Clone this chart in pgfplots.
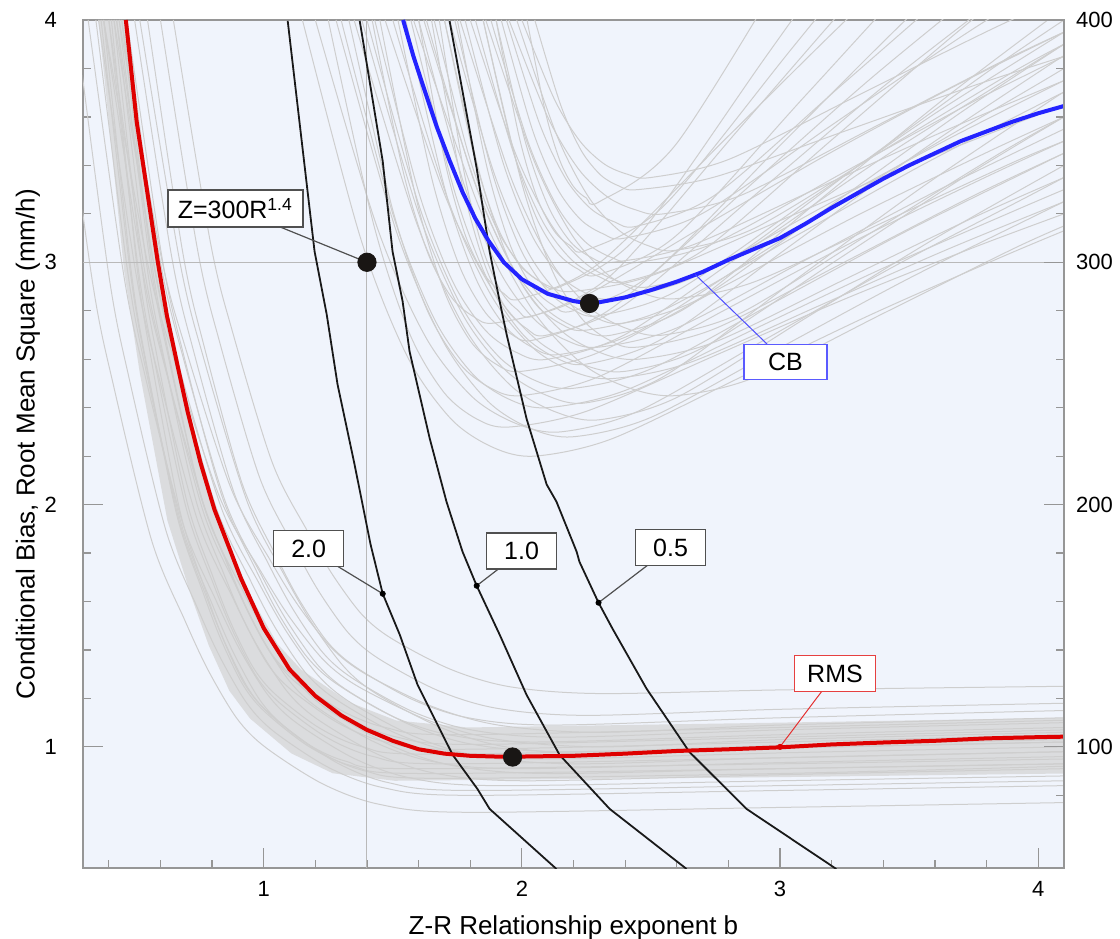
\documentclass[border=0pt]{standalone}
\usepackage{pgfplots}
\pgfplotsset{compat=1.18}
\usepackage{fontspec}
\setmainfont{Liberation Sans}
\definecolor{bgblue}{RGB}{240,244,252}
\definecolor{lgray}{RGB}{206,206,206}
\definecolor{bandgray}{RGB}{212,212,212}
\definecolor{framegray}{RGB}{150,150,150}
\definecolor{gridgray}{RGB}{185,185,185}
\definecolor{rmsred}{RGB}{222,0,0}
\definecolor{cbblue}{RGB}{35,35,255}
\definecolor{boxgray}{RGB}{80,80,80}
\definecolor{dotblack}{RGB}{25,22,20}
\pgfplotsset{
  gr/.style={lgray, line width=0.5pt, smooth, mark=none},
  blk/.style={black!90, line width=0.9pt, mark=none},
}
\tikzset{
  lbl/.style={fill=white, line width=0.75pt, inner sep=0pt, minimum height=18pt, font=\fontsize{12.5}{14}\selectfont},
}
\begin{document}
\begin{tikzpicture}
\begin{axis}[
  scale only axis, width=490.5pt, height=424pt,
  xmin=0.3, xmax=4.1, ymin=0.5, ymax=4,
  axis background/.style={fill=bgblue},
  axis line style={framegray, line width=0.7pt},
  xtick={1,2,3,4}, ytick={1,2,3,4},
  minor xtick={0.4,0.6,0.8,1.2,1.4,1.6,1.8,2.2,2.4,2.6,2.8,3.2,3.4,3.6,3.8},
  minor ytick={1.2,1.4,1.6,1.8,2.2,2.4,2.6,2.8,3.2,3.4,3.6,3.8},
  xtick pos=bottom, ytick pos=left,
  tick align=inside,
  major tick length=10pt, minor tick length=4pt,
  tick style={framegray, line width=0.6pt},
  tick label style={font=\fontsize{11}{13}\selectfont, black},
  xticklabel style={yshift=-3pt},
  yticklabel style={xshift=-9.5pt},
  /pgf/number format/assume math mode=true,
  xlabel={Z-R Relationship exponent b},
  ylabel={Conditional Bias, Root Mean Square (mm/h)},
  label style={font=\fontsize{13}{15}\selectfont},
  xlabel style={at={(axis description cs:0.5,-0.079)}, anchor=base},
  ylabel style={at={(axis description cs:-0.0494,0.5)}, anchor=base},
]
\coordinate (sw) at (rel axis cs:0,0);
\coordinate (ne) at (rel axis cs:1,1);
% dense core of the RMS family
\addplot[fill=bandgray, fill opacity=0.75, draw=none] coordinates {
(.36,4.0)(.459,2.967)(.52,2.543)(.627,1.934)(.72,1.620)(.787,1.419)(.867,1.231)(.947,1.117)(1.107,.973)(1.267,.891)(1.507,.86)(3.0,.875)(4.1,.89)
(4.1,1.12)(3.0,1.10)(1.789,1.08)(1.513,1.109)(1.329,1.185)(1.145,1.319)(1.053,1.425)(.961,1.600)(.884,1.787)(.777,2.079)(.654,2.645)(.584,3.039)(.47,4.0)} -- cycle;
% RMS family
\addplot[gr] coordinates {(.20,4.0)(.336,2.924)(.42,2.483)(.567,1.848)(.695,1.521)(.787,1.312)(.897,1.116)(1.007,.998)(1.227,.848)(1.447,.763)(1.777,.73)(3.0,.75)(4.1,.77)};
\addplot[gr] coordinates {(.27,4.0)(.40,2.947)(.48,2.515)(.621,1.894)(.743,1.574)(.831,1.370)(.936,1.178)(1.041,1.062)(1.251,.915)(1.461,.832)(1.776,.80)(3.0,.82)(4.1,.84)};
\addplot[gr] coordinates {(.32,4.0)(.456,2.960)(.54,2.534)(.687,1.921)(.815,1.605)(.907,1.402)(1.017,1.213)(1.127,1.099)(1.347,.954)(1.567,.872)(1.897,.84)(3.0,.86)(4.1,.88)};
\addplot[gr] coordinates {(.36,4.0)(.503,2.967)(.59,2.543)(.744,1.934)(.878,1.620)(.974,1.419)(1.089,1.231)(1.204,1.117)(1.434,.973)(1.664,.891)(2.009,.86)(3.0,.885)(4.1,.91)};
\addplot[gr] coordinates {(.38,4.0)(.529,2.977)(.62,2.557)(.781,1.954)(.92,1.643)(1.021,1.444)(1.141,1.257)(1.261,1.145)(1.501,1.002)(1.741,.921)(2.101,.89)(3.0,.91)(4.1,.93)};
\addplot[gr] coordinates {(.40,4.0)(.536,2.983)(.62,2.566)(.767,1.967)(.895,1.658)(.987,1.460)(1.097,1.275)(1.207,1.163)(1.427,1.021)(1.647,.941)(1.977,.91)(3.0,.935)(4.1,.96)};
\addplot[gr] coordinates {(.42,4.0)(.575,2.990)(.67,2.576)(.838,1.980)(.983,1.673)(1.088,1.476)(1.213,1.292)(1.338,1.182)(1.588,1.041)(1.838,.961)(2.213,.93)(3.0,.955)(4.1,.98)};
\addplot[gr] coordinates {(.43,4.0)(.573,2.997)(.66,2.585)(.814,1.993)(.948,1.688)(1.044,1.493)(1.159,1.310)(1.274,1.200)(1.504,1.060)(1.734,.981)(2.079,.95)(3.0,.975)(4.1,1.00)};
\addplot[gr] coordinates {(.45,4.0)(.599,3.006)(.69,2.599)(.851,2.013)(.99,1.711)(1.091,1.518)(1.211,1.336)(1.331,1.228)(1.571,1.089)(1.811,1.010)(2.171,.98)(3.0,1.005)(4.1,1.03)};
\addplot[gr] coordinates {(.38,4.0)(.547,3.013)(.65,2.608)(.831,2.026)(.988,1.726)(1.101,1.534)(1.236,1.354)(1.371,1.246)(1.641,1.108)(1.911,1.030)(2.316,1.00)(3.0,1.03)(4.1,1.06)};
\addplot[gr] coordinates {(.47,4.0)(.606,3.020)(.69,2.617)(.837,2.039)(.965,1.741)(1.057,1.550)(1.167,1.372)(1.277,1.264)(1.497,1.127)(1.717,1.050)(2.047,1.02)(3.0,1.05)(4.1,1.08)};
\addplot[gr] coordinates {(.50,4.0)(.643,3.026)(.73,2.627)(.884,2.052)(1.018,1.756)(1.114,1.567)(1.229,1.389)(1.344,1.283)(1.574,1.147)(1.804,1.070)(2.149,1.04)(3.0,1.07)(4.1,1.10)};
\addplot[gr] coordinates {(.44,4.0)(.601,3.033)(.70,2.636)(.874,2.065)(1.025,1.771)(1.134,1.583)(1.264,1.407)(1.394,1.301)(1.654,1.166)(1.914,1.089)(2.304,1.06)(3.0,1.09)(4.1,1.12)};
\addplot[gr] coordinates {(.55,4.0)(.686,3.043)(.77,2.650)(.917,2.085)(1.045,1.794)(1.137,1.608)(1.247,1.433)(1.357,1.329)(1.577,1.195)(1.797,1.119)(2.127,1.09)(3.0,1.12)(4.1,1.15)};
\addplot[gr] coordinates {(.60,4.0)(.743,3.056)(.83,2.668)(.984,2.112)(1.118,1.825)(1.214,1.641)(1.329,1.469)(1.444,1.365)(1.674,1.233)(1.904,1.159)(2.249,1.13)(3.0,1.155)(4.1,1.18)};
\addplot[gr] coordinates {(.65,4.0)(.793,3.085)(.88,2.710)(1.034,2.171)(1.168,1.893)(1.264,1.715)(1.379,1.548)(1.494,1.448)(1.724,1.320)(1.954,1.248)(2.299,1.22)(3.0,1.235)(4.1,1.25)};
\addplot[gr] coordinates {(.35,4.0)(.474,2.954)(.55,2.524)(.684,1.908)(.80,1.590)(.884,1.386)(.984,1.195)(1.084,1.081)(1.284,.934)(1.484,.852)(1.784,.82)(3.0,.84)(4.1,.86)};
\addplot[gr] coordinates {(.52,4.0)(.675,3.003)(.77,2.594)(.938,2.006)(1.083,1.703)(1.188,1.509)(1.313,1.328)(1.438,1.218)(1.688,1.079)(1.938,1.000)(2.313,.97)(3.0,.995)(4.1,1.02)};
\addplot[gr] coordinates {(.38,4.0)(.485,2.977)(.55,2.557)(.664,1.954)(.763,1.643)(.834,1.444)(.919,1.257)(1.004,1.145)(1.174,1.002)(1.344,.921)(1.599,.89)(3.0,.91)(4.1,.93)};
\addplot[gr] coordinates {(.40,4.0)(.512,2.990)(.58,2.576)(.701,1.980)(.805,1.673)(.881,1.476)(.971,1.292)(1.061,1.182)(1.241,1.041)(1.421,.961)(1.691,.93)(3.0,.955)(4.1,.98)};
\addplot[gr] coordinates {(.42,4.0)(.525,3.003)(.59,2.594)(.704,2.006)(.803,1.703)(.874,1.509)(.959,1.328)(1.044,1.218)(1.214,1.079)(1.384,1.00)(1.639,.97)(3.0,.995)(4.1,1.02)};
\addplot[gr] coordinates {(.44,4.0)(.558,3.016)(.63,2.613)(.757,2.033)(.868,1.734)(.947,1.542)(1.042,1.363)(1.137,1.255)(1.327,1.118)(1.517,1.04)(1.802,1.01)(3.0,1.04)(4.1,1.07)};
\addplot[gr] coordinates {(.37,4.0)(.482,2.970)(.55,2.548)(.671,1.940)(.775,1.627)(.851,1.427)(.941,1.239)(1.031,1.127)(1.211,.983)(1.391,.901)(1.661,.87)(3.0,.89)(4.1,.92)};
\addplot[gr] coordinates {(.45,4.0)(.562,3.029)(.63,2.631)(.751,2.059)(.855,1.764)(.931,1.575)(1.021,1.398)(1.111,1.292)(1.291,1.156)(1.471,1.08)(1.741,1.05)(3.0,1.08)(4.1,1.11)};
\addplot[gr] coordinates {(.41,4.0)(.509,2.983)(.57,2.566)(.677,1.967)(.77,1.658)(.837,1.460)(.917,1.275)(.997,1.163)(1.157,1.021)(1.317,.941)(1.557,.91)(3.0,.93)(4.1,.95)};
\addplot[gr] coordinates {(.43,4.0)(.544,3.010)(.614,2.603)(.737,2.019)(.844,1.718)(.921,1.526)(1.013,1.345)(1.105,1.237)(1.289,1.098)(1.473,1.02)(1.749,.99)(3.0,1.02)(4.1,1.05)};
% CB family
\addplot[gr] coordinates {(1.15,4.0)(1.375,3.10)(1.555,2.614)(1.726,2.353)(1.888,2.236)(2.05,2.20)(2.35,2.272)(2.85,2.527)(3.35,2.783)(3.85,3.018)(4.1,3.13)};
\addplot[gr] coordinates {(1.25,4.0)(1.425,3.16)(1.565,2.706)(1.698,2.463)(1.824,2.354)(1.95,2.32)(2.25,2.385)(2.75,2.616)(3.25,2.848)(3.75,3.061)(4.1,3.20)};
\addplot[gr] coordinates {(1.30,4.0)(1.50,3.20)(1.66,2.768)(1.812,2.536)(1.956,2.432)(2.10,2.40)(2.40,2.471)(2.90,2.724)(3.40,2.976)(3.90,3.209)(4.1,3.30)};
\addplot[gr] coordinates {(1.40,4.0)(1.60,3.24)(1.76,2.83)(1.912,2.609)(2.056,2.51)(2.20,2.48)(2.50,2.56)(3.00,2.847)(3.50,3.134)(4.00,3.398)(4.1,3.45)};
\addplot[gr] coordinates {(1.45,4.0)(1.588,3.275)(1.698,2.884)(1.802,2.673)(1.901,2.579)(2.00,2.55)(2.30,2.629)(2.80,2.911)(3.30,3.194)(3.80,3.453)(4.1,3.60)};
\addplot[gr] coordinates {(1.50,4.0)(1.713,3.26)(1.883,2.86)(2.044,2.646)(2.197,2.55)(2.35,2.52)(2.65,2.586)(3.15,2.82)(3.65,3.054)(4.1,3.25)};
\addplot[gr] coordinates {(1.55,4.0)(1.70,3.31)(1.82,2.937)(1.934,2.737)(2.042,2.648)(2.15,2.62)(2.45,2.715)(2.95,3.054)(3.45,3.393)(3.95,3.705)(4.1,3.80)};
\addplot[gr] coordinates {(1.60,4.0)(1.775,3.325)(1.915,2.961)(2.048,2.765)(2.174,2.677)(2.30,2.65)(2.60,2.729)(3.10,3.01)(3.60,3.291)(4.1,3.55)};
\addplot[gr] coordinates {(1.62,4.0)(1.828,3.30)(1.994,2.922)(2.151,2.719)(2.301,2.628)(2.45,2.60)(2.75,2.672)(3.25,2.929)(3.75,3.185)(4.1,3.35)};
\addplot[gr] coordinates {(1.65,4.0)(1.763,3.35)(1.853,2.999)(1.938,2.811)(2.019,2.726)(2.10,2.70)(2.40,2.826)(2.90,3.275)(3.40,3.725)(3.90,4.138)(4.1,4.30)};
\addplot[gr] coordinates {(1.70,4.0)(1.838,3.36)(1.948,3.014)(2.052,2.829)(2.151,2.746)(2.25,2.72)(2.55,2.804)(3.05,3.102)(3.55,3.401)(4.05,3.676)(4.1,3.70)};
\addplot[gr] coordinates {(1.72,4.0)(1.89,3.375)(2.026,3.038)(2.155,2.856)(2.278,2.775)(2.40,2.75)(2.70,2.857)(3.20,3.237)(3.70,3.618)(4.1,3.90)};
\addplot[gr] coordinates {(1.75,4.0)(1.863,3.40)(1.953,3.076)(2.038,2.902)(2.119,2.824)(2.20,2.80)(2.50,2.949)(3.00,3.482)(3.50,4.014)(4.0,4.504)(4.1,4.60)};
\addplot[gr] coordinates {(1.78,4.0)(1.923,3.425)(2.037,3.115)(2.145,2.948)(2.247,2.873)(2.35,2.85)(2.65,2.931)(3.15,3.219)(3.65,3.508)(4.1,3.75)};
\addplot[gr] coordinates {(1.80,4.0)(1.975,3.45)(2.115,3.153)(2.248,2.994)(2.374,2.922)(2.50,2.90)(2.80,3.008)(3.30,3.396)(3.80,3.783)(4.1,4.00)};
\addplot[gr] coordinates {(1.85,4.0)(1.963,3.475)(2.053,3.192)(2.138,3.039)(2.219,2.971)(2.30,2.95)(2.60,3.112)(3.10,3.69)(3.60,4.268)(4.1,4.80)};
\addplot[gr] coordinates {(1.88,4.0)(2.023,3.50)(2.137,3.23)(2.245,3.085)(2.347,3.02)(2.45,3.00)(2.75,3.081)(3.25,3.373)(3.75,3.664)(4.1,3.85)};
\addplot[gr] coordinates {(1.92,4.0)(2.04,3.55)(2.136,3.307)(2.227,3.177)(2.314,3.118)(2.40,3.10)(2.70,3.202)(3.20,3.566)(3.70,3.93)(4.1,4.20)};
\addplot[gr] coordinates {(1.95,4.0)(2.10,3.60)(2.22,3.384)(2.334,3.268)(2.442,3.216)(2.55,3.20)(2.85,3.277)(3.35,3.55)(3.85,3.824)(4.1,3.95)};
\addplot[gr] coordinates {(2.00,4.0)(2.125,3.675)(2.225,3.50)(2.32,3.405)(2.41,3.363)(2.50,3.35)(2.80,3.424)(3.30,3.688)(3.80,3.952)(4.1,4.10)};
\addplot[gr] coordinates {(1.35,4.0)(1.588,3.175)(1.778,2.73)(1.958,2.49)(2.129,2.383)(2.30,2.35)(2.60,2.442)(3.10,2.77)(3.60,3.098)(4.1,3.40)};
\addplot[gr] coordinates {(1.58,4.0)(1.835,3.225)(2.039,2.807)(2.233,2.582)(2.416,2.481)(2.60,2.45)(2.90,2.524)(3.40,2.789)(3.90,3.054)(4.1,3.15)};
\addplot[gr] coordinates {(1.68,4.0)(1.773,3.39)(1.847,3.061)(1.917,2.884)(1.983,2.804)(2.05,2.78)(2.35,2.951)(2.85,3.561)(3.35,4.171)(3.85,4.732)};
\addplot[gr] coordinates {(1.90,4.0)(1.988,3.525)(2.058,3.269)(2.124,3.131)(2.187,3.069)(2.25,3.05)(2.55,3.233)(3.05,3.888)(3.55,4.543)};
\addplot[gr] coordinates {(2.02,4.0)(2.09,3.625)(2.146,3.423)(2.199,3.314)(2.25,3.265)(2.30,3.25)(2.60,3.491)(3.10,4.35)};
\addplot[gr] coordinates {(1.20,4.0)(1.4375,3.15)(1.6275,2.691)(1.808,2.4445)(1.979,2.334)(2.15,2.30)(2.45,2.385)(2.95,2.686)(3.45,2.988)(3.95,3.266)(4.1,3.35)};
\addplot[gr] coordinates {(1.33,4.0)(1.4975,3.225)(1.6315,2.8065)(1.759,2.582)(1.879,2.481)(2.0,2.45)(2.3,2.529)(2.8,2.811)(3.3,3.094)(3.8,3.353)(4.1,3.50)};
\addplot[gr] coordinates {(1.38,4.0)(1.5975,3.21)(1.7715,2.783)(1.937,2.554)(2.093,2.452)(2.25,2.42)(2.55,2.529)(3.05,2.92)(3.55,3.31)(4.05,3.669)(4.1,3.70)};
\addplot[gr] coordinates {(1.43,4.0)(1.5975,3.30)(1.7315,2.922)(1.859,2.719)(1.979,2.628)(2.10,2.60)(2.4,2.702)(2.9,3.067)(3.4,3.433)(3.9,3.769)(4.1,3.90)};
\addplot[gr] coordinates {(1.47,4.0)(1.7025,3.275)(1.8885,2.8835)(2.065,2.673)(2.233,2.579)(2.40,2.55)(2.7,2.647)(3.2,2.995)(3.7,3.343)(4.1,3.60)};
\addplot[gr] coordinates {(1.52,4.0)(1.6525,3.34)(1.7585,2.984)(1.859,2.792)(1.955,2.706)(2.05,2.68)(2.35,2.812)(2.85,3.285)(3.35,3.757)(3.85,4.192)(4.1,4.40)};
\addplot[gr] coordinates {(1.42,4.0)(1.54,3.375)(1.636,3.0375)(1.727,2.856)(1.814,2.775)(1.90,2.75)(2.2,2.837)(2.7,3.146)(3.2,3.455)(3.7,3.74)(4.1,3.95)};
\addplot[gr] coordinates {(1.57,4.0)(1.74,3.29)(1.876,2.907)(2.005,2.701)(2.128,2.608)(2.25,2.58)(2.55,2.688)(3.05,3.076)(3.55,3.463)(4.05,3.819)(4.1,3.85)};
\addplot[gr] coordinates {(1.63,4.0)(1.81,3.35)(1.954,2.999)(2.091,2.81)(2.22,2.726)(2.35,2.70)(2.65,2.821)(3.15,3.254)(3.65,3.687)(4.1,4.05)};
\addplot[gr] coordinates {(1.66,4.0)(1.795,3.44)(1.903,3.138)(2.006,2.975)(2.103,2.902)(2.20,2.88)(2.5,2.944)(3.0,3.172)(3.5,3.399)(4.0,3.609)(4.1,3.65)};
\addplot[gr] coordinates {(1.74,4.0)(1.88,3.39)(1.992,3.061)(2.098,2.884)(2.199,2.804)(2.30,2.78)(2.6,2.882)(3.1,3.248)(3.6,3.614)(4.1,3.95)};
\addplot[gr] coordinates {(1.76,4.0)(1.9575,3.35)(2.1155,2.999)(2.266,2.81)(2.408,2.726)(2.55,2.70)(2.85,2.792)(3.35,3.12)(3.85,3.449)(4.1,3.60)};
\addplot[gr] coordinates {(1.82,4.0)(1.965,3.46)(2.081,3.168)(2.191,3.012)(2.296,2.942)(2.40,2.92)(2.7,3.048)(3.2,3.505)(3.7,3.962)(4.1,4.30)};
\addplot[gr] coordinates {(1.86,4.0)(2.045,3.425)(2.193,3.1145)(2.334,2.948)(2.467,2.873)(2.60,2.85)(2.9,2.919)(3.4,3.165)(3.9,3.411)(4.1,3.50)};
\addplot[gr] coordinates {(1.90,4.0)(2.0125,3.50)(2.1025,3.23)(2.188,3.085)(2.269,3.02)(2.35,3.00)(2.65,3.067)(3.15,3.308)(3.65,3.548)(4.1,3.75)};
\addplot[gr] coordinates {(1.94,4.0)(2.0675,3.575)(2.1695,3.3455)(2.266,3.222)(2.358,3.167)(2.45,3.15)(2.75,3.279)(3.25,3.742)(3.75,4.204)(4.1,4.50)};
\addplot[gr] coordinates {(1.98,4.0)(2.135,3.525)(2.259,3.2685)(2.377,3.131)(2.488,3.069)(2.60,3.05)(2.9,3.14)(3.4,3.462)(3.9,3.784)(4.1,3.90)};
\addplot[gr] coordinates {(2.05,4.0)(2.15,3.65)(2.23,3.461)(2.306,3.3595)(2.378,3.314)(2.45,3.30)(2.75,3.353)(3.25,3.541)(3.75,3.729)(4.1,3.85)};
\addplot[gr] coordinates {(1.70,4.0)(1.8125,3.45)(1.9025,3.153)(1.988,2.9935)(2.069,2.922)(2.15,2.90)(2.45,3.109)(2.95,3.856)(3.45,4.604)};
\addplot[gr] coordinates {(1.60,4.0)(1.70,3.425)(1.78,3.1145)(1.856,2.948)(1.928,2.873)(2.00,2.85)(2.3,2.997)(2.8,3.521)(3.3,4.045)(3.8,4.528)};
\addplot[gr] coordinates {(1.85,4.0)(2.00,3.325)(2.12,2.9605)(2.234,2.765)(2.342,2.677)(2.45,2.65)(2.75,2.727)(3.25,3.001)(3.75,3.275)(4.1,3.45)};
\addplot[gr] coordinates {(1.28,4.0)(1.51,3.14)(1.694,2.676)(1.869,2.426)(2.034,2.314)(2.20,2.28)(2.5,2.36)(3.0,2.647)(3.5,2.934)(4.0,3.198)(4.1,3.25)};
% reference lines through Z=300R^1.4
\addplot[gridgray, line width=0.5pt, mark=none] coordinates {(1.4,0.5)(1.4,4.0)};
\addplot[gridgray, line width=0.5pt, mark=none] coordinates {(0.3,3.0)(4.1,3.0)};
% black curves
\addplot[blk] coordinates {(1.093,3.996)(1.197,3.045)(1.244,2.785)(1.286,2.496)(1.352,2.165)(1.414,1.835)(1.461,1.632)(1.527,1.463)(1.596,1.256)(1.732,0.967)(1.828,0.826)(1.875,0.744)(2.134,0.496)};
\addplot[blk] coordinates {(1.372,3.996)(1.461,3.417)(1.499,3.045)(1.538,2.839)(1.565,2.632)(1.643,2.273)(1.708,2.012)(1.770,1.806)(1.825,1.665)(1.914,1.463)(2.018,1.215)(2.146,0.967)(2.340,0.744)(2.638,0.496)};
\addplot[blk] coordinates {(1.720,3.996)(1.825,3.388)(1.875,3.045)(1.914,2.839)(1.941,2.702)(2.018,2.355)(2.096,2.083)(2.134,2.012)(2.212,1.806)(2.223,1.764)(2.297,1.595)(2.351,1.488)(2.483,1.240)(2.649,0.979)(2.870,0.744)(3.218,0.496)};
% RMS and CB
\addplot[rmsred, line width=2pt, mark=none] coordinates {(0.466,4.0)(0.508,3.58)(0.59,3.0)(0.625,2.78)(0.667,2.57)(0.706,2.38)(0.756,2.17)(0.809,1.98)(0.867,1.82)(0.912,1.695)(1.0,1.49)(1.1,1.32)(1.2,1.21)(1.3,1.13)(1.4,1.07)(1.5,1.025)(1.6,0.99)(1.7,0.972)(1.8,0.963)(1.9,0.96)(2.0,0.96)(2.2,0.963)(2.4,0.972)(2.6,0.983)(2.8,0.99)(3.0,0.998)(3.2,1.01)(3.4,1.018)(3.6,1.025)(3.8,1.035)(4.0,1.04)(4.1,1.042)};
\addplot[cbblue, line width=2pt, mark=none] coordinates {(1.54,4.0)(1.58,3.85)(1.62,3.72)(1.67,3.56)(1.72,3.42)(1.77,3.29)(1.82,3.18)(1.87,3.09)(1.93,3.0)(2.0,2.93)(2.1,2.87)(2.2,2.84)(2.26,2.83)(2.3,2.835)(2.4,2.855)(2.5,2.885)(2.6,2.92)(2.7,2.96)(2.8,3.01)(2.9,3.055)(3.0,3.10)(3.1,3.16)(3.2,3.225)(3.3,3.285)(3.4,3.345)(3.5,3.40)(3.6,3.45)(3.7,3.50)(3.8,3.54)(3.9,3.58)(4.0,3.615)(4.1,3.645)};
% leader lines
\draw[boxgray, line width=0.6pt] (axis cs:0.890,3.221) -- (axis cs:1.4,3.0);
\draw[boxgray, line width=0.6pt] (axis cs:1.174,1.818) -- (axis cs:1.461,1.632);
\draw[boxgray, line width=0.6pt] (axis cs:1.999,1.808) -- (axis cs:1.825,1.665);
\draw[boxgray, line width=0.6pt] (axis cs:2.576,1.822) -- (axis cs:2.297,1.595);
\draw[rmsred!80, line width=0.5pt] (axis cs:3.213,1.302) -- (axis cs:3.0,1.0);
\draw[cbblue!80, line width=0.5pt] (axis cs:3.021,2.589) -- (axis cs:2.672,2.949);
% markers
\addplot[only marks, mark=*, mark size=4.6pt, dotblack] coordinates {(1.4,3.0)(1.964,0.958)(2.262,2.83)};
\addplot[only marks, mark=*, mark size=1.3pt, black] coordinates {(1.461,1.632)(1.825,1.665)(2.297,1.595)};
\addplot[only marks, mark=*, mark size=1.3pt, rmsred] coordinates {(3.0,1.0)};
% labels
\node[lbl, draw=boxgray, minimum width=67.5pt, minimum height=18.5pt] at (axis cs:0.890,3.221) {Z=300R\textsuperscript{1.4}};
\node[lbl, draw=boxgray, minimum width=35pt] at (axis cs:1.174,1.818) {2.0};
\node[lbl, draw=boxgray, minimum width=35pt] at (axis cs:1.999,1.808) {1.0};
\node[lbl, draw=boxgray, minimum width=35pt] at (axis cs:2.576,1.822) {0.5};
\node[lbl, draw=rmsred!75, minimum width=40.5pt] at (axis cs:3.213,1.302) {RMS};
\node[lbl, draw=cbblue!75, minimum width=41.5pt, minimum height=17.5pt] at (axis cs:3.021,2.589) {CB};
\end{axis}
\begin{axis}[
  scale only axis, width=490.5pt, height=424pt,
  xmin=0.3, xmax=4.1, ymin=50, ymax=400,
  axis x line=none, axis y line*=right,
  axis line style={framegray, line width=0.7pt},
  ytick={100,200,300,400},
  minor ytick={80,120,140,160,180,220,240,260,280,320,340,360,380},
  tick align=inside, major tick length=10pt, minor tick length=4pt,
  tick style={framegray, line width=0.6pt},
  tick label style={font=\fontsize{11}{13}\selectfont, black},
  yticklabel style={xshift=2.5pt},
  /pgf/number format/assume math mode=true,
]
\addplot[draw=none, mark=none] coordinates {(1,100)};
\end{axis}
\pgfresetboundingbox
\path[use as bounding box] ([xshift=-41.5pt,yshift=-35pt]sw) rectangle ([xshift=28pt,yshift=10pt]ne);
\end{tikzpicture}
\end{document}
